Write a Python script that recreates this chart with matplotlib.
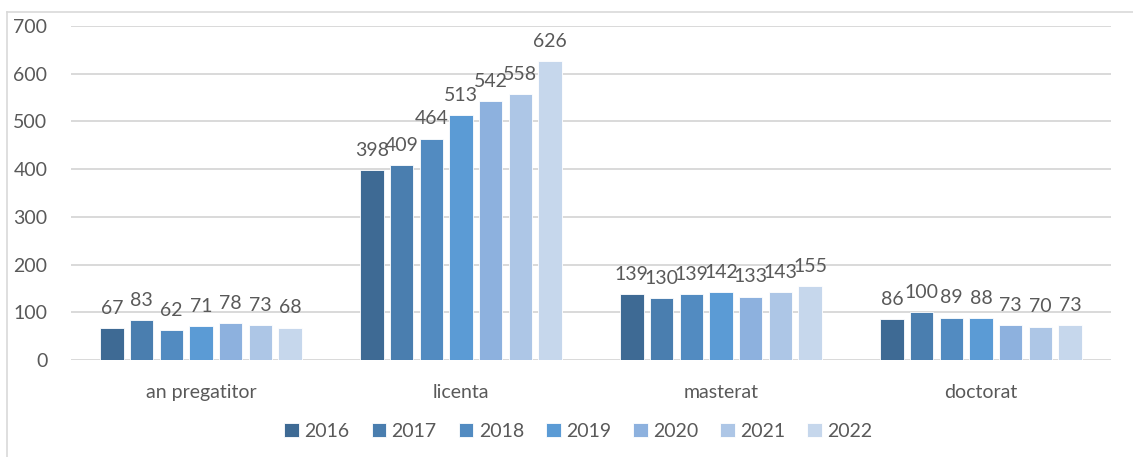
import numpy as np
import matplotlib.pyplot as plt
from matplotlib.lines import Line2D

categories = ['an pregatitor', 'licenta', 'masterat', 'doctorat']
years = ['2016', '2017', '2018', '2019', '2020', '2021', '2022']
values = {
    '2016': [67, 398, 139, 86],
    '2017': [83, 409, 130, 100],
    '2018': [62, 464, 139, 89],
    '2019': [71, 513, 142, 88],
    '2020': [78, 542, 133, 73],
    '2021': [73, 558, 143, 70],
    '2022': [68, 626, 155, 73],
}
colors = ['#3E6A94', '#4A7EAF', '#528BC1', '#5B9BD5', '#8DB1DE', '#ADC6E6', '#C6D7EC']

plt.rcParams['font.family'] = ['Lato', 'DejaVu Sans']
txt = '#595959'

fig = plt.figure(figsize=(11.33, 4.57), dpi=100)
ax = fig.add_axes([71 / 1133, 1 - 360 / 457, 1040 / 1133, 334 / 457])

x = np.arange(len(categories))
slot = 0.8 / len(years)
width = slot * 0.79
for i, yr in enumerate(years):
    pos = x - 0.4 + slot * (i + 0.5)
    bars = ax.bar(pos, values[yr], width, color=colors[i], label=yr,
                  edgecolor='white', linewidth=0.6, zorder=3)
    for b, v in zip(bars, values[yr]):
        ax.annotate(str(v), (b.get_x() + b.get_width() / 2, v),
                    xytext=(0, 8), textcoords='offset points',
                    ha='center', va='bottom', fontsize=14, color=txt)

ax.set_xlim(-0.5, len(categories) - 0.5)
ax.set_ylim(0, 700)
ax.set_yticks(range(0, 701, 100))
ax.set_xticks(x)
ax.set_xticklabels(categories)
ax.tick_params(axis='both', length=0, labelsize=14, labelcolor=txt)
ax.tick_params(axis='x', pad=17)
ax.tick_params(axis='y', pad=17)
ax.grid(axis='y', color='#D9D9D9', linewidth=1.4, zorder=0)
for s in ax.spines.values():
    s.set_visible(False)

leg = ax.legend(loc='center', bbox_to_anchor=(0.488, -0.213), ncol=7, frameon=False,
                fontsize=14, handlelength=0.75, handleheight=0.75,
                handletextpad=0.28, columnspacing=1.13)
for t in leg.get_texts():
    t.set_color(txt)

# chart area border (cropped)
fig.add_artist(Line2D([7 / 1133, 1], [1 - 12 / 457, 1 - 12 / 457],
                      transform=fig.transFigure, color='#D9D9D9', linewidth=1.2))
fig.add_artist(Line2D([7 / 1133, 7 / 1133], [0, 1 - 12 / 457],
                      transform=fig.transFigure, color='#D9D9D9', linewidth=1.2))

fig.savefig('out.png', dpi=100)
